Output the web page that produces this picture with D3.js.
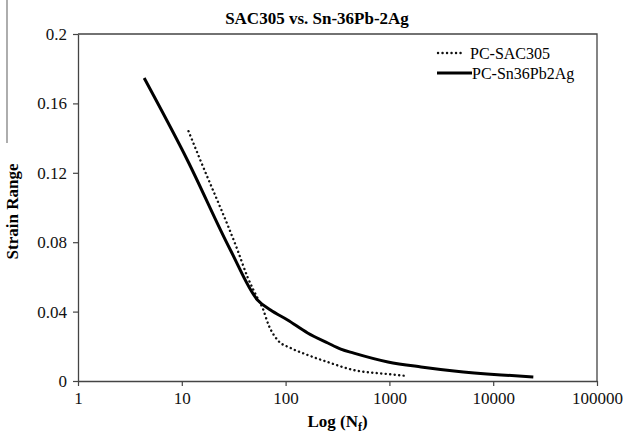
<!DOCTYPE html>
<html>
<head>
<meta charset="utf-8">
<script src="https://cdn.jsdelivr.net/npm/d3@7"></script>
<style>
  body { margin: 0; background: white; }
  svg { display: block; font-family: "Liberation Serif", "Times New Roman", serif; }
</style>
</head>
<body>
<svg id="chart"></svg>
<script>
// ----------------------------------------- Data -----------------------------------------

var xTicks = [1, 10, 100, 1000, 10000, 100000];
var yTicks = [0, 0.04, 0.08, 0.12, 0.16, 0.2];

// PC-Sn36Pb2Ag (solid)
var snN      = [4.34, 11.3, 29.4, 53.6, 71.6, 104.5, 163, 255, 340, 454, 968, 2016, 4200, 11950, 24350];
var snStrain = [0.1746, 0.1274, 0.0755, 0.0467, 0.0409, 0.0352, 0.0277, 0.0219, 0.0184, 0.0161, 0.0110, 0.0081, 0.0058, 0.0035, 0.0023];

// PC-SAC305 (dotted)
var sacN      = [11.6, 14.8, 34.4, 43, 54.8, 60, 68.5, 83.7, 112, 163, 255, 454, 968, 1476];
var sacStrain = [0.1440, 0.1285, 0.0755, 0.0599, 0.0467, 0.0421, 0.0323, 0.0236, 0.0190, 0.0150, 0.0109, 0.0063, 0.0040, 0.0029];

var seriesNames = ['PC-SAC305', 'PC-Sn36Pb2Ag'];

// ----------------------------------------- SVG -----------------------------------------

var width = 627;
var height = 434;
var plotLeft = 78, plotRight = 597, plotTop = 34, plotBottom = 381;

var svg = d3.select('#chart')
            .attr('width', width)
            .attr('height', height);

var xScale = d3.scaleLog()
               .domain([1, 100000])
               .range([plotLeft, plotRight]);

var yScale = d3.scaleLinear()
               .domain([0, 0.2])
               .range([plotBottom, plotTop]);

// stray border line on the left of the figure
svg.append('line')
    .attr('x1', 7).attr('x2', 7)
    .attr('y1', 0).attr('y2', 143)
    .attr('stroke', '#777')
    .attr('stroke-width', 1.2);

// Frame (top + right)
svg.append('path')
    .attr('d', `M${plotLeft},${plotTop}H${plotRight}V${plotBottom}`)
    .attr('fill', 'none')
    .attr('stroke', '#444')
    .attr('stroke-width', 1.3);

// ----------------------------------------- Axes -----------------------------------------

var xAxis = svg.append('g')
    .attr('transform', `translate(0, ${plotBottom})`)
    .call(d3.axisBottom(xScale)
            .tickValues(xTicks)
            .tickFormat(d3.format('d'))
            .tickSize(5)
            .tickSizeOuter(0));

var yAxis = svg.append('g')
    .attr('transform', `translate(${plotLeft}, 0)`)
    .call(d3.axisLeft(yScale)
            .tickValues(yTicks)
            .tickFormat(d => d === 0 ? '0' : d3.format('.2~f')(d))
            .tickSize(5)
            .tickSizeOuter(0));

[xAxis, yAxis].forEach(function(ax){
  ax.select('.domain').attr('stroke', '#444').attr('stroke-width', 1.3);
  ax.selectAll('.tick line').attr('stroke', '#444').attr('stroke-width', 1.2);
  ax.selectAll('text')
      .attr('fill', '#111')
      .style('font-family', '"Liberation Serif", serif')
      .style('font-size', '17px');
});

xAxis.selectAll('text').attr('y', 10).attr('dy', '0.75em');
yAxis.selectAll('text').attr('x', -11);

// Axis titles
svg.append('text')
    .attr('transform', 'rotate(-90)')
    .attr('x', -(plotTop + plotBottom) / 2 - 4)
    .attr('y', 18)
    .attr('text-anchor', 'middle')
    .style('font-weight', 'bold')
    .style('font-size', '17px')
    .text('Strain Range');

var xt = svg.append('text')
    .attr('x', (plotLeft + plotRight) / 2)
    .attr('y', 427)
    .attr('text-anchor', 'middle')
    .style('font-weight', 'bold')
    .style('font-size', '17px');
xt.append('tspan').text('Log (N');
xt.append('tspan').attr('dy', 4).style('font-size', '12px').text('f');
xt.append('tspan').attr('dy', -4).text(')');

// Title
svg.append('text')
    .text('SAC305 vs. Sn-36Pb-2Ag')
    .attr('x', 317)
    .attr('y', 24)
    .attr('text-anchor', 'middle')
    .style('font-weight', 'bold')
    .style('font-size', '17px');

// ----------------------------------------- Lines -----------------------------------------

var line = d3.line()
    .x(d => xScale(d[0]))
    .y(d => yScale(d[1]))
    .curve(d3.curveMonotoneX);

svg.append('path')
    .datum(d3.zip(sacN, sacStrain))
    .attr('d', line)
    .attr('fill', 'none')
    .attr('stroke', '#111')
    .attr('stroke-width', 2.4)
    .attr('stroke-linecap', 'round')
    .attr('stroke-dasharray', '0.1,4.4');

svg.append('path')
    .datum(d3.zip(snN, snStrain))
    .attr('d', line)
    .attr('fill', 'none')
    .attr('stroke', '#000')
    .attr('stroke-width', 3);

// ----------------------------------------- Legend -----------------------------------------

var legend = svg.append('g');

legend.append('line')
    .attr('x1', 438).attr('x2', 465)
    .attr('y1', 53).attr('y2', 53)
    .attr('stroke', '#111')
    .attr('stroke-width', 2.4)
    .attr('stroke-linecap', 'round')
    .attr('stroke-dasharray', '0.1,4.4');

legend.append('line')
    .attr('x1', 437).attr('x2', 472)
    .attr('y1', 73).attr('y2', 73)
    .attr('stroke', '#000')
    .attr('stroke-width', 3);

legend.selectAll('.leg-text')
    .data(seriesNames)
    .enter()
    .append('text')
      .attr('class', 'leg-text')
      .attr('x', (d, i) => i === 0 ? 470 : 472)
      .attr('y', (d, i) => 53 + i * 20)
      .attr('dy', '0.35em')
      .style('font-size', '16px')
      .text(d => d);
</script>
</body>
</html>
